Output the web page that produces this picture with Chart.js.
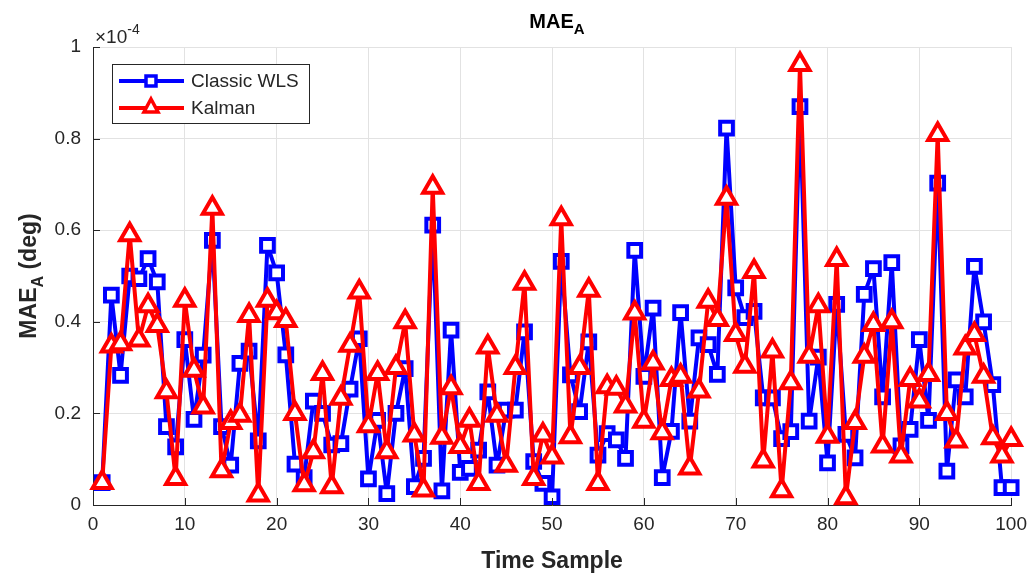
<!DOCTYPE html>
<html>
<head>
<meta charset="utf-8">
<script src="https://cdn.jsdelivr.net/npm/chart.js@4/dist/chart.umd.min.js"></script>
<style>
  html, body { margin: 0; padding: 0; background: #fff; }
  #wrap { width: 1035px; height: 575px; }
</style>
</head>
<body>
<div id="wrap"><canvas id="maeChart" width="1035" height="575"></canvas></div>
<script>
// MAE_A per time sample, values in units of 1e-4 deg

const timeSamples = [1, 2, 3, 4, 5, 6, 7, 8, 9, 10, 11, 12, 13, 14, 15, 16, 17, 18, 19, 20,
    21, 22, 23, 24, 25, 26, 27, 28, 29, 30, 31, 32, 33, 34, 35, 36, 37, 38, 39, 40,
    41, 42, 43, 44, 45, 46, 47, 48, 49, 50, 51, 52, 53, 54, 55, 56, 57, 58, 59, 60,
    61, 62, 63, 64, 65, 66, 67, 68, 69, 70, 71, 72, 73, 74, 75, 76, 77, 78, 79, 80,
    81, 82, 83, 84, 85, 86, 87, 88, 89, 90, 91, 92, 93, 94, 95, 96, 97, 98, 99, 100];

const classicWLS = [0.049, 0.458, 0.283, 0.500, 0.494, 0.538, 0.487, 0.171, 0.127, 0.361,
    0.187, 0.327, 0.578, 0.171, 0.087, 0.309, 0.336, 0.140, 0.567, 0.507,
    0.328, 0.089, 0.060, 0.227, 0.200, 0.131, 0.134, 0.253, 0.363, 0.057,
    0.185, 0.025, 0.200, 0.298, 0.040, 0.102, 0.611, 0.031, 0.382, 0.071,
    0.080, 0.120, 0.247, 0.087, 0.207, 0.207, 0.378, 0.095, 0.047, 0.018,
    0.532, 0.284, 0.204, 0.356, 0.109, 0.156, 0.142, 0.102, 0.556, 0.281,
    0.430, 0.060, 0.161, 0.420, 0.183, 0.365, 0.350, 0.285, 0.823, 0.474,
    0.409, 0.423, 0.234, 0.234, 0.145, 0.160, 0.870, 0.183, 0.323, 0.092,
    0.438, 0.154, 0.103, 0.460, 0.516, 0.236, 0.529, 0.129, 0.165, 0.361,
    0.185, 0.703, 0.074, 0.273, 0.236, 0.521, 0.400, 0.263, 0.038, 0.038];

const kalman = [0.049, 0.347, 0.352, 0.590, 0.360, 0.435, 0.392, 0.247, 0.058, 0.447,
    0.294, 0.214, 0.648, 0.075, 0.180, 0.196, 0.414, 0.022, 0.447, 0.420,
    0.403, 0.200, 0.044, 0.116, 0.287, 0.040, 0.233, 0.349, 0.465, 0.173,
    0.287, 0.116, 0.300, 0.400, 0.153, 0.033, 0.694, 0.148, 0.256, 0.128,
    0.185, 0.047, 0.345, 0.196, 0.087, 0.300, 0.484, 0.058, 0.153, 0.105,
    0.625, 0.149, 0.300, 0.469, 0.047, 0.258, 0.255, 0.216, 0.419, 0.183,
    0.310, 0.158, 0.274, 0.281, 0.081, 0.249, 0.445, 0.405, 0.670, 0.372,
    0.303, 0.510, 0.096, 0.336, 0.031, 0.267, 0.962, 0.325, 0.435, 0.150,
    0.536, 0.016, 0.180, 0.325, 0.394, 0.129, 0.400, 0.107, 0.274, 0.227,
    0.285, 0.809, 0.200, 0.140, 0.343, 0.372, 0.281, 0.147, 0.107, 0.143];

const xTicks = [0, 10, 20, 30, 40, 50, 60, 70, 80, 90, 100];
const yTicks = [0, 0.2, 0.4, 0.6, 0.8, 1];
const seriesNames = ['Classic WLS', 'Kalman'];

const FONT = '"Liberation Sans", Arial, Helvetica, sans-serif';
const AXIS_COLOR = '#262626';

function toPoints(values) {
    return values.map((v, i) => ({ x: timeSamples[i], y: v }));
}

// draws "main" + subscript + optional tail centred on x, baseline y
function drawSubText(ctx, x, y, main, sub, tail, size, subSize) {
    ctx.font = 'bold ' + size + 'px ' + FONT;
    const w1 = ctx.measureText(main).width;
    ctx.font = 'bold ' + subSize + 'px ' + FONT;
    const w2 = ctx.measureText(sub).width;
    ctx.font = 'bold ' + size + 'px ' + FONT;
    const w3 = tail ? ctx.measureText(tail).width : 0;
    let start = x - (w1 + w2 + w3) / 2;
    ctx.textAlign = 'left';
    ctx.textBaseline = 'alphabetic';
    ctx.fillText(main, start, y);
    ctx.font = 'bold ' + subSize + 'px ' + FONT;
    ctx.fillText(sub, start + w1, y + size * 0.3);
    if (tail) {
        ctx.font = 'bold ' + size + 'px ' + FONT;
        ctx.fillText(tail, start + w1 + w2, y);
    }
}

const decorations = {
    id: 'decorations',
    afterDraw(chart) {
        const ctx = chart.ctx;
        const area = chart.chartArea;
        const xs = chart.scales.x;
        const ys = chart.scales.y;
        ctx.save();
        ctx.fillStyle = '#000';

        // title
        drawSubText(ctx, 557, 28, 'MAE', 'A', '', 20, 15);

        // y title rotated
        ctx.save();
        ctx.translate(36, 276);
        ctx.rotate(-Math.PI / 2);
        ctx.fillStyle = AXIS_COLOR;
        drawSubText(ctx, 0, 0, 'MAE', 'A', ' (deg)', 23, 16);
        ctx.restore();

        // x title
        ctx.fillStyle = AXIS_COLOR;
        ctx.font = 'bold 23px ' + FONT;
        ctx.textAlign = 'center';
        ctx.textBaseline = 'middle';
        ctx.fillText('Time Sample', (area.left + area.right) / 2, 562);

        // exponent label
        ctx.font = '19px ' + FONT;
        ctx.textAlign = 'left';
        ctx.textBaseline = 'alphabetic';
        ctx.fillText('\u00d710', 95, 43);
        const ew = ctx.measureText('\u00d710').width;
        ctx.font = '14px ' + FONT;
        ctx.fillText('-4', 95 + ew, 34);

        // inward tick marks
        ctx.strokeStyle = AXIS_COLOR;
        ctx.lineWidth = 1;
        ctx.beginPath();
        xTicks.forEach(t => {
            const px = Math.round(xs.getPixelForValue(t)) + 0.5;
            ctx.moveTo(px, area.bottom);
            ctx.lineTo(px, area.bottom - 7);
        });
        yTicks.forEach(t => {
            const py = Math.round(ys.getPixelForValue(t)) + 0.5;
            ctx.moveTo(area.left, py);
            ctx.lineTo(area.left + 7, py);
        });
        ctx.stroke();

        // legend
        const lx = 112, ly = 64, lw = 197, lh = 59;
        ctx.fillStyle = '#fff';
        ctx.fillRect(lx, ly, lw, lh);
        ctx.strokeStyle = AXIS_COLOR;
        ctx.lineWidth = 1;
        ctx.strokeRect(lx + 0.5, ly + 0.5, lw, lh);

        const rows = [
            { y: 81, color: '#0000ff', marker: 'rect' },
            { y: 108, color: '#ff0000', marker: 'tri' }
        ];
        rows.forEach((r, i) => {
            ctx.strokeStyle = r.color;
            ctx.lineWidth = 4;
            ctx.beginPath();
            ctx.moveTo(119, r.y);
            ctx.lineTo(184, r.y);
            ctx.stroke();
            ctx.lineWidth = 3.5;
            ctx.lineJoin = 'miter';
            ctx.fillStyle = '#fff';
            ctx.beginPath();
            if (r.marker === 'rect') {
                ctx.rect(146, r.y - 5, 10, 10);
            } else {
                ctx.moveTo(151, r.y - 9);
                ctx.lineTo(158, r.y + 4);
                ctx.lineTo(144, r.y + 4);
                ctx.closePath();
            }
            ctx.fill();
            ctx.stroke();
            ctx.fillStyle = AXIS_COLOR;
            ctx.font = '19px ' + FONT;
            ctx.textAlign = 'left';
            ctx.textBaseline = 'middle';
            ctx.fillText(seriesNames[i], 191, r.y + 1);
        });
        ctx.restore();
    }
};

const data = {
    datasets: [{
        label: seriesNames[0],
        data: toPoints(classicWLS),
        borderColor: '#0000ff',
        borderWidth: 4,
        borderJoinStyle: 'round',
        pointStyle: 'rect',
        pointRadius: 9,
        pointBorderWidth: 4,
        pointBackgroundColor: '#fff',
        pointBorderColor: '#0000ff',
        tension: 0,
        clip: false,
        order: 1
    }, {
        label: seriesNames[1],
        data: toPoints(kalman),
        borderColor: '#ff0000',
        borderWidth: 4,
        borderJoinStyle: 'round',
        pointStyle: 'triangle',
        pointRadius: 11,
        pointBorderWidth: 4,
        pointBackgroundColor: '#fff',
        pointBorderColor: '#ff0000',
        tension: 0,
        clip: false,
        order: 0
    }]
};

new Chart(document.getElementById('maeChart'), {
    type: 'line',
    data: data,
    options: {
        responsive: false,
        animation: false,
        events: [],
        layout: { padding: { left: 0, right: 22, top: 47, bottom: 0 } },
        plugins: {
            legend: { display: false },
            title: { display: false },
            tooltip: { enabled: false }
        },
        scales: {
            x: {
                type: 'linear',
                min: 0,
                max: 100,
                afterFit: s => { s.height = 70; },
                afterBuildTicks: s => { s.ticks = xTicks.map(v => ({ value: v })); },
                ticks: {
                    font: { family: FONT, size: 19 },
                    color: AXIS_COLOR,
                    padding: 8,
                    maxRotation: 0
                },
                grid: { color: '#e2e2e2', lineWidth: 1, drawTicks: false },
                border: { display: true, color: AXIS_COLOR, width: 1 }
            },
            y: {
                min: 0,
                max: 1,
                afterFit: s => { s.width = 93; },
                afterBuildTicks: s => { s.ticks = yTicks.map(v => ({ value: v })); },
                ticks: {
                    font: { family: FONT, size: 19 },
                    color: AXIS_COLOR,
                    padding: 12,
                    callback: v => String(Math.round(v * 10) / 10)
                },
                grid: { color: '#e2e2e2', lineWidth: 1, drawTicks: false },
                border: { display: true, color: AXIS_COLOR, width: 1 }
            }
        }
    },
    plugins: [decorations]
});
</script>
</body>
</html>
